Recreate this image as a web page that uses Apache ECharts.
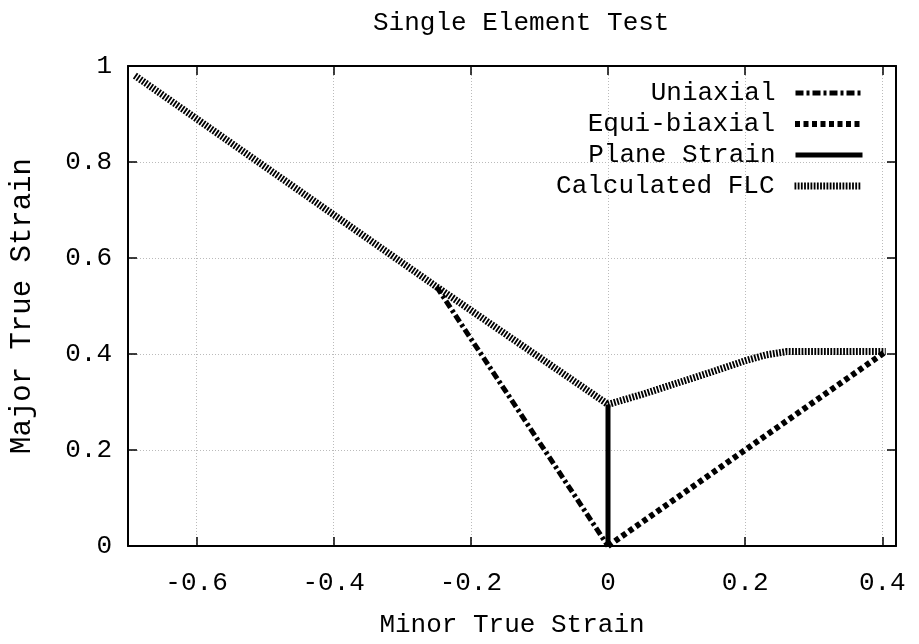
<!DOCTYPE html>
<html><head><meta charset="utf-8">
<script src="https://cdn.jsdelivr.net/npm/echarts@6/dist/echarts.min.js"></script>
<style>html,body{margin:0;padding:0;background:#fff}#c{width:919px;height:644px}</style>
</head><body><div id="c"></div>
<script>
// ---- data ----
const xTicks = [-0.6, -0.4, -0.2, 0, 0.2, 0.4];
const yTicks = [0, 0.2, 0.4, 0.6, 0.8, 1];
const uniaxialX = [-0.25, 0];
const uniaxialY = [0.54, 0];
const equiX = [0, 0.405];
const equiY = [0, 0.405];
const planeX = [0, 0];
const planeY = [0, 0.295];
const flcX = [-0.69, -0.25, 0, 0.05, 0.1, 0.15, 0.2, 0.23, 0.26, 0.405];
const flcY = [0.98, 0.54, 0.295, 0.316, 0.339, 0.362, 0.386, 0.398, 0.405, 0.405];
const seriesNames = ['Uniaxial', 'Equi-biaxial', 'Plane Strain', 'Calculated FLC'];

// ---- styles ----
const FONT = "'Liberation Mono', 'Courier New', monospace";
const styles = [
  { width: 5, type: [8, 3, 3, 3] },
  { width: 6, type: [5, 3.5] },
  { width: 5, type: 'solid' },
  { width: 7, type: [1.8, 1.4] }
];
const xs = [uniaxialX, equiX, planeX, flcX];
const ys = [uniaxialY, equiY, planeY, flcY];

const pair = (X, Y) => X.map((v, i) => [v, Y[i]]);

const chart = echarts.init(document.getElementById('c'), null, { renderer: 'canvas' });

const axisCommon = {
  type: 'value',
  axisLine: { show: true, onZero: false, lineStyle: { color: '#000', width: 2 } },
  axisTick: { show: true, inside: true, length: 9, lineStyle: { color: '#000', width: 1.5 } },
  splitLine: { show: false }
};

const option = {
  backgroundColor: '#fff',
  animation: false,
  title: {
    text: 'Single Element Test',
    left: 368, top: 5,
    textStyle: { fontFamily: FONT, fontSize: 26, fontWeight: 'normal', color: '#000' }
  },
  grid: { left: 128, right: 23, top: 66, bottom: 98, containLabel: false, outerBoundsMode: 'none' },
  legend: seriesNames.map((n, i) => ({
    data: [n],
    right: 54,
    top: 80 + i * 31,
    orient: 'vertical',
    align: 'right',
    itemWidth: 67,
    itemHeight: 14,
    padding: 0,
    selectedMode: false,
    itemStyle: { opacity: 0, borderWidth: 0 },
    lineStyle: { width: styles[i].width },
    textStyle: { fontFamily: FONT, fontSize: 26, color: '#000', padding: [0, 15, 0, 0] }
  })),
  xAxis: [
    Object.assign({}, axisCommon, {
      position: 'bottom', min: -0.7, max: 0.42,
      name: 'Minor True Strain', nameLocation: 'middle', nameGap: 66,
      nameTextStyle: { fontFamily: FONT, fontSize: 26, color: '#000' },
      axisTick: Object.assign({}, axisCommon.axisTick, { customValues: xTicks }),
      axisLabel: { customValues: xTicks, margin: 24, fontFamily: FONT, fontSize: 26, color: '#000' },
      splitLine: { show: true, lineStyle: { color: '#bbb', width: 1, type: [1, 2] } }
    }),
    Object.assign({}, axisCommon, {
      position: 'top', min: -0.7, max: 0.42,
      axisTick: Object.assign({}, axisCommon.axisTick, { customValues: xTicks }),
      axisLabel: { show: false }
    })
  ],
  yAxis: [
    Object.assign({}, axisCommon, {
      position: 'left', min: 0, max: 1, interval: 0.2,
      name: 'Major True Strain', nameLocation: 'middle', nameGap: 91, nameRotate: 90,
      nameTextStyle: { fontFamily: FONT, fontSize: 29, color: '#000' },
      axisLabel: { margin: 16, fontFamily: FONT, fontSize: 26, color: '#000' },
      splitLine: { show: true, lineStyle: { color: '#bbb', width: 1, type: [1, 2] } }
    }),
    Object.assign({}, axisCommon, {
      position: 'right', min: 0, max: 1, interval: 0.2,
      axisLabel: { show: false }
    })
  ],
  series: seriesNames.map((n, i) => ({
    name: n,
    type: 'line',
    xAxisIndex: 0, yAxisIndex: 0,
    data: pair(xs[i], ys[i]),
    symbol: 'none',
    showSymbol: false,
    clip: false,
    z: 3,
    color: '#000',
    lineStyle: { color: '#000', width: styles[i].width, type: styles[i].type, cap: 'butt' }
  }))
};
chart.setOption(option);
</script>
</body></html>
